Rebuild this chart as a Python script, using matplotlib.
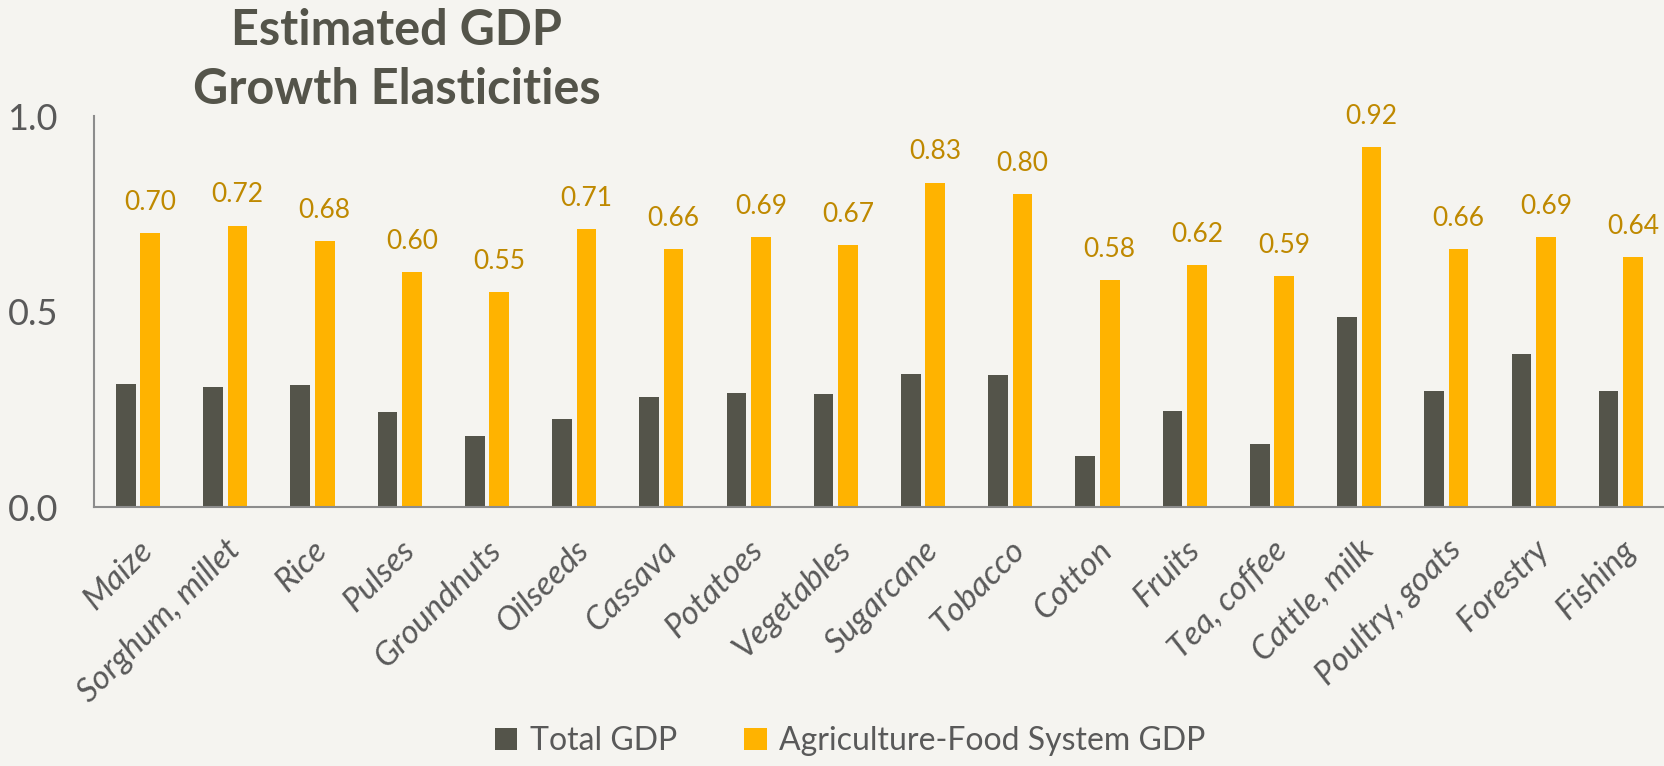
import numpy as np
import matplotlib.pyplot as plt

crops = ['Maize', 'Sorghum, millet', 'Rice', 'Pulses', 'Groundnuts', 'Oilseeds',
         'Cassava', 'Potatoes', 'Vegetables', 'Sugarcane', 'Tobacco', 'Cotton',
         'Fruits', 'Tea, coffee', 'Cattle, milk', 'Poultry, goats', 'Forestry', 'Fishing']
total_gdp = [0.316, 0.306, 0.311, 0.242, 0.182, 0.225, 0.282, 0.292, 0.289,
             0.341, 0.338, 0.130, 0.247, 0.162, 0.485, 0.296, 0.392, 0.297]
agri_gdp = [0.70, 0.72, 0.68, 0.60, 0.55, 0.71, 0.66, 0.69, 0.67,
            0.83, 0.80, 0.58, 0.62, 0.59, 0.92, 0.66, 0.69, 0.64]

bg = '#F5F4F0'
dark = '#54544A'
gold = '#FFB300'
txt = '#595959'

plt.rcParams['font.family'] = ['Lato', 'DejaVu Sans']

fig = plt.figure(figsize=(16.64, 7.66), dpi=100, facecolor=bg)
ax = fig.add_axes([0.0565, 0.338, 0.9435, 0.5105])
ax.set_facecolor(bg)

x = np.arange(len(crops))
w = 0.225
ax.bar(x - 0.135, total_gdp, w, color=dark, label='Total GDP')
b2 = ax.bar(x + 0.145, agri_gdp, w, color=gold, label='Agriculture-Food System GDP')

for rect, v in zip(b2, agri_gdp):
    ax.annotate('%.2f' % v, (rect.get_x() + rect.get_width() / 2, v),
                xytext=(0, 13), textcoords='offset points',
                ha='center', va='bottom', fontsize=19, color='#BF8900')

ax.set_xlim(-0.5, len(crops) - 0.5)
ax.set_ylim(0, 1.0)
ax.set_yticks([0, 0.5, 1.0])
ax.set_yticklabels(['0.0', '0.5', '1.0'], fontsize=26, color=txt)
ax.set_xticks(x)
ax.set_xticklabels(crops, rotation=45, ha='right', rotation_mode='anchor',
                   fontsize=24, color=txt, style='italic')
ax.tick_params(axis='x', length=0, pad=20)
ax.tick_params(axis='y', length=0, pad=26)
for s in ['top', 'right']:
    ax.spines[s].set_visible(False)
for s in ['left', 'bottom']:
    ax.spines[s].set_color('#8C8C8C')
    ax.spines[s].set_linewidth(1.5)

fig.text(0.2385, 0.99, 'Estimated GDP\nGrowth Elasticities', ha='center', va='top',
         fontsize=35, fontweight='bold', color=dark, linespacing=1.4)

fig.legend(loc='lower center', bbox_to_anchor=(0.511, -0.025), ncol=2, frameon=False,
           fontsize=23, labelcolor=txt, handlelength=0.7, handleheight=0.7,
           handletextpad=0.4, columnspacing=2.1)

fig.savefig('out.png', dpi=100, facecolor=bg)
